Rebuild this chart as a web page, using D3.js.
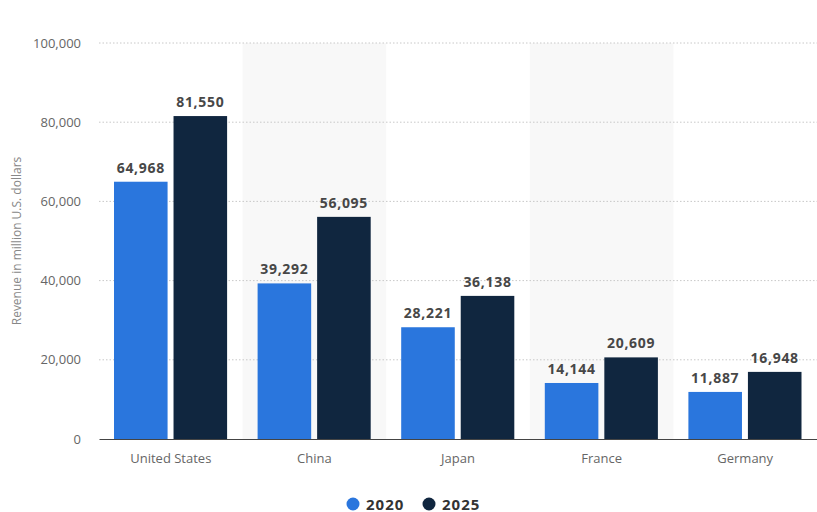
<!DOCTYPE html>
<html>
<head>
<meta charset="utf-8">
<script src="https://cdn.jsdelivr.net/npm/d3@7"></script>
<style>
  html, body { margin: 0; padding: 0; background: #fff; }
  svg { display: block; font-family: "Open Sans", "Noto Sans", sans-serif; }
</style>
</head>
<body>
<svg id="chart" width="817" height="512"></svg>
<script>
// Revenue by country, 2020 vs 2025 (million U.S. dollars)
const countries = ["United States", "China", "Japan", "France", "Germany"];
const years = ["2020", "2025"];
const revenue2020 = [64968, 39292, 28221, 14144, 11887];
const revenue2025 = [81550, 56095, 36138, 20609, 16948];
const yTicks = [0, 20000, 40000, 60000, 80000, 100000];
const colors = ["#2a76dd", "#10263f"];

const svg = d3.select("#chart");
const margin = { top: 43, right: 0, bottom: 73, left: 99 };
const W = 817, H = 512;
const plotW = W - margin.left - margin.right;
const plotH = H - margin.top - margin.bottom;

const g = svg.append("g").attr("transform", `translate(${margin.left},${margin.top})`);

const x0 = d3.scaleBand().domain(countries).range([0, plotW]).paddingInner(0).paddingOuter(0);
const x1 = d3.scaleBand().domain(years).range([15, x0.bandwidth() - 15.5]).paddingInner(0.1);
const y = d3.scaleLinear().domain([0, 100000]).range([plotH, 0]);

// alternating band shading
g.selectAll("rect.band")
  .data(countries.filter((d, i) => i % 2 === 1))
  .join("rect")
  .attr("class", "band")
  .attr("x", d => x0(d))
  .attr("y", 0)
  .attr("width", x0.bandwidth())
  .attr("height", plotH)
  .attr("fill", "#f8f8f8");

// horizontal dotted grid
g.selectAll("line.grid")
  .data(yTicks.filter(t => t > 0))
  .join("line")
  .attr("class", "grid")
  .attr("x1", 0).attr("x2", plotW)
  .attr("y1", d => y(d)).attr("y2", d => y(d))
  .attr("stroke", "#c8c8c8")
  .attr("stroke-width", 1)
  .attr("stroke-dasharray", "1.5,2");

// y axis labels
const yAxis = d3.axisLeft(y).tickValues(yTicks).tickSize(0).tickPadding(18)
  .tickFormat(d3.format(","));
const ya = g.append("g").call(yAxis);
ya.select(".domain").remove();
ya.selectAll("text").attr("fill", "#666").style("font-size", "13px")
  .style("font-family", "'Open Sans', sans-serif");

// bars
const series = [revenue2020, revenue2025];
const groups = g.selectAll("g.country")
  .data(countries)
  .join("g")
  .attr("class", "country")
  .attr("transform", d => `translate(${x0(d)},0)`);

groups.selectAll("rect.bar")
  .data((d, i) => years.map((yr, j) => ({ yr, v: series[j][i], j })))
  .join("rect")
  .attr("class", "bar")
  .attr("x", d => x1(d.yr))
  .attr("width", x1.bandwidth())
  .attr("y", d => y(d.v))
  .attr("height", d => plotH - y(d.v))
  .attr("fill", d => colors[d.j]);

groups.selectAll("text.val")
  .data((d, i) => years.map((yr, j) => ({ yr, v: series[j][i], j })))
  .join("text")
  .attr("class", "val")
  .attr("x", d => x1(d.yr) + x1.bandwidth() / 2)
  .attr("y", d => y(d.v) - 9)
  .attr("text-anchor", "middle")
  .attr("fill", "#474747")
  .style("font-size", "14px")
  .style("font-weight", "700")
  .style("letter-spacing", "0.7px")
  .text(d => d3.format(",")(d.v));

// x axis
const xAxis = d3.axisBottom(x0).tickSize(0).tickPadding(15);
const xa = g.append("g").attr("transform", `translate(0,${plotH})`).call(xAxis);
xa.select(".domain").attr("stroke", "#444").attr("stroke-width", 1.2);
xa.selectAll("text").attr("fill", "#666").style("font-size", "13px")
  .style("font-family", "'Open Sans', sans-serif");

// y axis title
svg.append("text")
  .attr("transform", `translate(21,${margin.top + plotH / 2})` + " rotate(-90)")
  .attr("text-anchor", "middle")
  .attr("fill", "#888")
  .style("font-size", "12px")
  .text("Revenue in million U.S. dollars");

// legend
const legend = svg.append("g").attr("transform", "translate(0,504)");
const legendX = [353, 429];
years.forEach((yr, j) => {
  legend.append("circle").attr("cx", legendX[j]).attr("cy", 0).attr("r", 6.5).attr("fill", colors[j]);
  legend.append("text").attr("x", legendX[j] + 13).attr("y", 5.5)
    .attr("fill", "#333").style("font-size", "15px").style("font-weight", "700")
    .style("letter-spacing", "1px")
    .text(yr);
});
</script>
</body>
</html>
